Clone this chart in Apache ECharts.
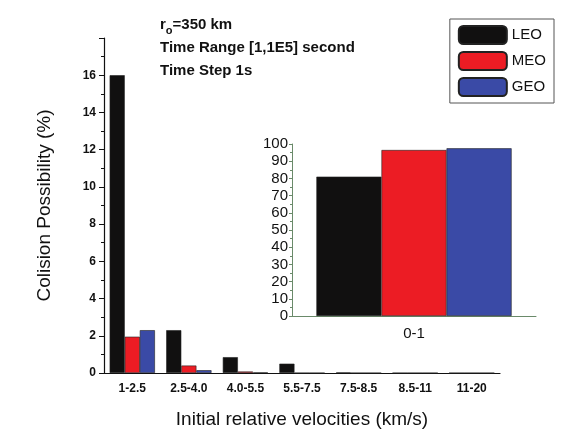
<!DOCTYPE html>
<html><head><meta charset="utf-8">
<script src="https://cdn.jsdelivr.net/npm/echarts@6/dist/echarts.min.js"></script>
<style>body{margin:0}#c{width:580px;height:447px}</style>
</head><body><div id="c"></div>
<script>
// main chart data
const categories = ['1-2.5', '2.5-4.0', '4.0-5.5', '5.5-7.5', '7.5-8.5', '8.5-11', '11-20'];
const leo = [16, 2.3, 0.85, 0.5, 0.03, 0, 0];
const meo = [1.95, 0.4, 0.08, 0, 0, 0, 0];
const geo = [2.3, 0.15, 0.03, 0, 0, 0, 0];
const yTicks = [0, 2, 4, 6, 8, 10, 12, 14, 16];
// inset data
const insetCategories = ['0-1'];
const insetLeo = [81];
const insetMeo = [96.5];
const insetGeo = [97.5];

const colors = ['#111010', '#ec1c24', '#3a4aa6'];
const chart = echarts.init(document.getElementById('c'));
const font = 'Arial, Liberation Sans, sans-serif';
const barStyle = (c) => ({ color: c, borderColor: '#222', borderWidth: 0.6 });
const axisLine = { lineStyle: { color: '#111', width: 1.2 } };

chart.setOption({
  animation: false,
  textStyle: { fontFamily: font },
  title: {
    left: 155, top: 8,
    text: '{a|r}{s|o}{a|=350 km}\n{a|Time Range [1,1E5] second}\n{a|Time Step 1s}',
    textStyle: {
      rich: {
        a: { fontSize: 15, color: '#111', lineHeight: 23, fontFamily: font },
        s: { fontSize: 11, color: '#111', verticalAlign: 'bottom', padding: [8, 0, 0, 0], fontFamily: font }
      }
    }
  },
  legend: {
    right: 26, top: 19, orient: 'vertical',
    itemWidth: 48, itemHeight: 18, itemGap: 6,
    padding: [6, 8, 6, 8],
    borderColor: '#555', borderWidth: 1,
    textStyle: { fontSize: 15, color: '#111' },
    data: ['LEO', 'MEO', 'GEO']
  },
  grid: [
    { left: 104, right: 80, top: 38, bottom: 74 },
    { left: 292, right: 44, top: 144, bottom: 131 }
  ],
  xAxis: [
    {
      type: 'category', gridIndex: 0, data: categories,
      axisLine: axisLine, axisTick: { alignWithLabel: false, lineStyle: { color: '#111' }, length: 4 },
      axisLabel: { fontSize: 12, fontWeight: 'bold', color: '#111', margin: 10 },
      name: 'Initial relative velocities (km/s)', nameLocation: 'middle', nameGap: 37,
      nameTextStyle: { fontSize: 19, color: '#111' }
    },
    {
      type: 'category', gridIndex: 1, data: insetCategories,
      axisLine: { lineStyle: { color: '#6a8a6a' } }, axisTick: { alignWithLabel: true, lineStyle: { color: '#6a8a6a' } },
      axisLabel: { fontSize: 15, color: '#111', margin: 10 }
    }
  ],
  yAxis: [
    {
      type: 'value', gridIndex: 0, min: 0, max: 18, interval: 2,
      axisLine: { show: true, lineStyle: { color: '#111', width: 1.2 } },
      axisTick: { show: true, lineStyle: { color: '#111' }, length: 5 },
      minorTick: { show: true, splitNumber: 2, length: 3, lineStyle: { color: '#111' } },
      splitLine: { show: false },
      axisLabel: { fontSize: 12, fontWeight: 'bold', color: '#111',
        formatter: v => yTicks.includes(v) ? String(v) : '' },
      name: 'Colision Possibility (%)', nameLocation: 'middle', nameGap: 50, nameRotate: 90,
      nameTextStyle: { fontSize: 19, color: '#111' }
    },
    {
      type: 'value', gridIndex: 1, min: 0, max: 100, interval: 10,
      axisLine: { show: true, lineStyle: { color: '#6a8a6a' } },
      axisTick: { show: true, lineStyle: { color: '#6a8a6a' }, length: 3 },
      minorTick: { show: true, splitNumber: 2, length: 2, lineStyle: { color: '#6a8a6a' } },
      splitLine: { show: false },
      axisLabel: { fontSize: 15, color: '#111', margin: 4 }
    }
  ],
  series: [
    { name: 'LEO', type: 'bar', xAxisIndex: 0, yAxisIndex: 0, data: leo, barGap: 0, barCategoryGap: '20%', itemStyle: barStyle(colors[0]) },
    { name: 'MEO', type: 'bar', xAxisIndex: 0, yAxisIndex: 0, data: meo, barGap: 0, barCategoryGap: '20%', itemStyle: barStyle(colors[1]) },
    { name: 'GEO', type: 'bar', xAxisIndex: 0, yAxisIndex: 0, data: geo, barGap: 0, barCategoryGap: '20%', itemStyle: barStyle(colors[2]) },
    { name: 'LEO', type: 'bar', xAxisIndex: 1, yAxisIndex: 1, data: insetLeo, barGap: 0, barCategoryGap: '20%', itemStyle: barStyle(colors[0]) },
    { name: 'MEO', type: 'bar', xAxisIndex: 1, yAxisIndex: 1, data: insetMeo, barGap: 0, barCategoryGap: '20%', itemStyle: barStyle(colors[1]) },
    { name: 'GEO', type: 'bar', xAxisIndex: 1, yAxisIndex: 1, data: insetGeo, barGap: 0, barCategoryGap: '20%', itemStyle: barStyle(colors[2]) }
  ]
});
</script></body></html>
